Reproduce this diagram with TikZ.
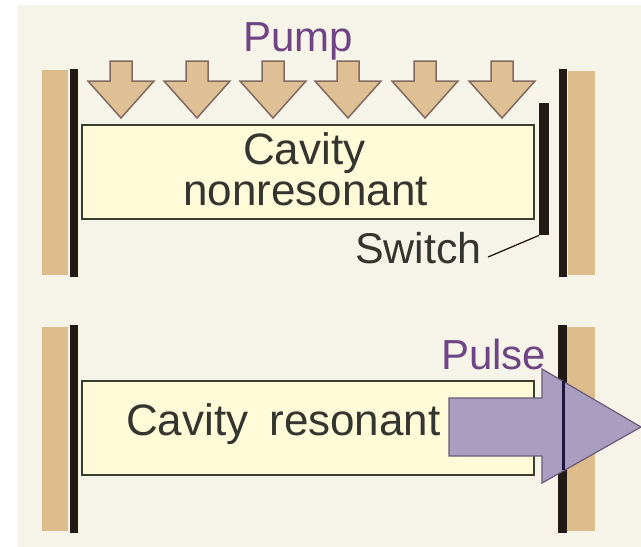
\documentclass[tikz,border=0pt]{standalone}
\usepackage{fontspec}
\setmainfont{Liberation Sans}
\usetikzlibrary{calc}
\definecolor{bgc}{HTML}{F6F4E8}
\definecolor{tanc}{HTML}{DDBC8C}
\definecolor{arrowc}{HTML}{DFBF94}
\definecolor{arrowline}{HTML}{806A60}
\definecolor{mirrorc}{HTML}{231A16}
\definecolor{cavc}{HTML}{FFFBD9}
\definecolor{cavline}{HTML}{3C3E2C}
\definecolor{txtc}{HTML}{35352F}
\definecolor{purp}{HTML}{6E4484}
\definecolor{pulsec}{HTML}{A99DC0}
\definecolor{pulseline}{HTML}{6A5A78}
\definecolor{innerline}{HTML}{1E1440}
\tikzset{
  x=1pt,y=-1pt,
  plate/.style={fill=tanc,draw=none},
  mirror/.style={fill=mirrorc,draw=none},
  cavity/.style={draw=cavline,line width=1.5pt,fill=cavc,rectangle,inner sep=0pt,minimum width=452pt,minimum height=94pt,anchor=north west},
  pumparrow/.style={fill=arrowc,draw=arrowline,line width=1.5pt,line join=miter},
  label/.style={font=\fontsize{44}{48}\selectfont,text=txtc,inner sep=0pt,anchor=base west},
  plabel/.style={label,font=\fontsize{42}{46}\selectfont,text=purp},
}
\begin{document}
\begin{tikzpicture}
\useasboundingbox (0,0) rectangle (641,547);
\fill[white] (0,0) rectangle (641,547);
\fill[bgc] (18,5) rectangle (641,547);
% upper
\fill[plate] (42,70) rectangle (68,275);
\fill[mirror] (70,69) rectangle (78,277);
\fill[mirror] (559,69) rectangle (567,277);
\fill[plate] (568,71) rectangle (595,275);
\foreach \cx in {121,197,273,348,425,502}{
  \draw[pumparrow] (\cx-11,61) -- (\cx+11,61) -- (\cx+11,81) -- (\cx+33,81) -- (\cx,118) -- (\cx-33,81) -- (\cx-11,81) -- cycle;
}
\node[plabel] (pump) at (243,51) {Pump};
\node[cavity] (cav1) at (81,124) {};
\node[label] (cav1a) at (243,164) {Cavity};
\node[label] (cav1b) at (183,205) {nonresonant};
\node[fill=mirrorc,inner sep=0pt,minimum width=10pt,minimum height=132pt,anchor=north west] (switchbar) at (539,103) {};
\node[label,font=\fontsize{43}{47}\selectfont] (switch) at (355,263) {Switch};
\coordinate (swa) at ($(switch.base east)+(6,-6)$);
\draw[mirrorc,line width=1.3pt] (swa) -- (switchbar.south west);
% lower
\fill[plate] (42,327) rectangle (68,531);
\fill[mirror] (70,325) rectangle (78,533);
\fill[mirror] (558,325) rectangle (567,533);
\fill[plate] (567,327) rectangle (595,531);
\node[cavity] (cav2) at (81,380) {};
\node[label] (cav2a) at (126,435) {Cavity\hspace{0.2em} resonant};
\node[plabel] (pulse) at (441,369) {Pulse};
\draw[fill=pulsec,draw=pulseline,line width=1.2pt,line join=miter] (449,398) -- (542,398) -- (542,369) -- (641,427) -- (542,483) -- (542,456) -- (449,456) -- cycle;
\draw[draw=innerline,line width=3pt] (563,381) -- (563,470);
\end{tikzpicture}
\end{document}
